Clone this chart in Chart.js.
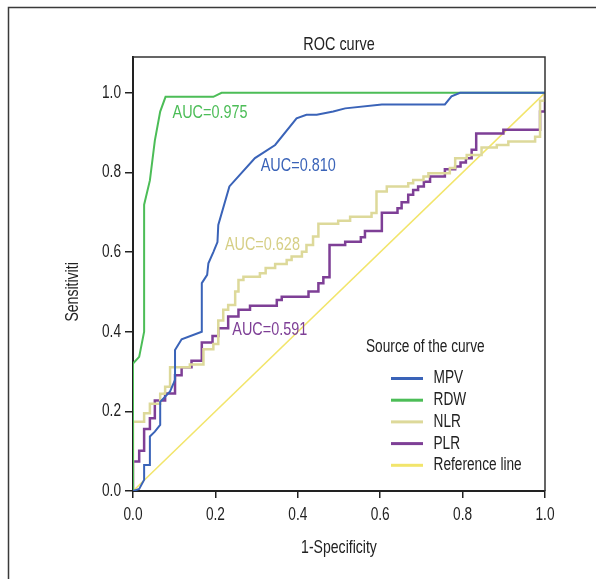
<!DOCTYPE html>
<html lang="en">
<head>
<meta charset="UTF-8" />
<title>ROC curve</title>
<script src="https://cdn.jsdelivr.net/npm/chart.js"></script>
<style>
  html, body { margin: 0; padding: 0; background: #fff; }
  #roc { display: block; }
</style>
</head>
<body>
<canvas id="roc" width="596" height="579"></canvas>

<script>
    // x = 1-Specificity, y = Sensitivity
    const mpvFpr = [0, 0.015, 0.027, 0.027, 0.041, 0.041, 0.053, 0.066, 0.066, 0.09, 0.102, 0.102, 0.118, 0.167, 0.167, 0.18, 0.183, 0.195, 0.205, 0.207, 0.234, 0.296, 0.345, 0.397, 0.421, 0.446, 0.486, 0.515, 0.604, 0.757, 0.773, 0.794, 1];
    const mpvTpr = [0, 0.005, 0.028, 0.065, 0.065, 0.137, 0.149, 0.166, 0.224, 0.25, 0.279, 0.354, 0.381, 0.40, 0.522, 0.543, 0.572, 0.60, 0.625, 0.668, 0.765, 0.836, 0.869, 0.936, 0.945, 0.945, 0.953, 0.961, 0.971, 0.971, 0.991, 1, 1];

    const rdwFpr = [0, 0, 0.015, 0.027, 0.027, 0.041, 0.053, 0.066, 0.079, 0.195, 0.215, 1];
    const rdwTpr = [0, 0.32, 0.337, 0.40, 0.719, 0.78, 0.88, 0.953, 0.99, 0.99, 1, 1];

    // NLR and PLR are step curves (one point per threshold)
    const nlrFpr = [0, 0, 0.027, 0.041, 0.066, 0.078, 0.09, 0.138, 0.171, 0.195, 0.207, 0.219, 0.231, 0.248, 0.256, 0.268, 0.308, 0.322, 0.345, 0.373, 0.385, 0.41, 0.421, 0.437, 0.45, 0.498, 0.527, 0.579, 0.591, 0.616, 0.668, 0.68, 0.705, 0.717, 0.769, 0.782, 0.81, 0.846, 0.883, 0.911, 0.976, 0.988, 1];
    const nlrTpr = [0, 0.174, 0.195, 0.219, 0.244, 0.262, 0.311, 0.318, 0.356, 0.369, 0.428, 0.455, 0.467, 0.501, 0.530, 0.538, 0.547, 0.56, 0.57, 0.58, 0.589, 0.601, 0.618, 0.639, 0.671, 0.679, 0.689, 0.698, 0.752, 0.765, 0.773, 0.781, 0.79, 0.798, 0.811, 0.836, 0.844, 0.863, 0.869, 0.878, 0.89, 0.98, 1];

    const plrFpr = [0, 0, 0.015, 0.027, 0.041, 0.053, 0.078, 0.102, 0.118, 0.142, 0.167, 0.193, 0.207, 0.231, 0.256, 0.284, 0.349, 0.361, 0.426, 0.45, 0.462, 0.477, 0.515, 0.553, 0.563, 0.604, 0.642, 0.652, 0.668, 0.68, 0.692, 0.706, 0.721, 0.757, 0.782, 0.795, 0.808, 0.822, 0.833, 0.899, 0.988, 1];
    const plrTpr = [0, 0.074, 0.101, 0.156, 0.183, 0.227, 0.245, 0.291, 0.311, 0.327, 0.373, 0.389, 0.409, 0.438, 0.455, 0.465, 0.48, 0.488, 0.501, 0.522, 0.537, 0.618, 0.626, 0.637, 0.653, 0.699, 0.71, 0.725, 0.744, 0.756, 0.765, 0.777, 0.79, 0.808, 0.815, 0.825, 0.836, 0.857, 0.898, 0.907, 0.953, 1];

    const refFpr = [0, 1];
    const refTpr = [0, 1];

    const seriesNames = ['MPV', 'RDW', 'NLR', 'PLR', 'Reference line'];
    const seriesColors = ['#3a63b8', '#4cbd57', '#ddd99a', '#7e3f96', '#f2e56b'];
    const aucTexts = ['AUC=0.810', 'AUC=0.975', 'AUC=0.628', 'AUC=0.591'];
    const tickValues = [0, 0.2, 0.4, 0.6, 0.8, 1.0];

    // no condensed font installed: squeeze Liberation Sans horizontally
    const FONT = '"Liberation Sans", Arial, sans-serif';
    const SX = 0.76;

    function pts(xs, ys) {
        return xs.map((x, i) => ({ x: x, y: ys[i] }));
    }

    function txt(ctx, s, x, y, align, base) {
        ctx.save();
        ctx.translate(x, y);
        ctx.scale(SX, 1);
        ctx.textAlign = align;
        ctx.textBaseline = base;
        ctx.fillText(s, 0, 0);
        ctx.restore();
    }

    const extras = {
        id: 'extras',
        afterDraw(chart) {
            const ctx = chart.ctx;
            const a = chart.chartArea;
            const xs = chart.scales.x;
            const ys = chart.scales.y;
            ctx.save();

            // outer frame (top + left only)
            ctx.strokeStyle = '#3a3a3a';
            ctx.lineWidth = 1.5;
            ctx.beginPath();
            ctx.moveTo(8.5, 579);
            ctx.lineTo(8.5, 7.5);
            ctx.lineTo(596, 7.5);
            ctx.stroke();

            // plot box top + right
            ctx.strokeStyle = '#333';
            ctx.lineWidth = 1.5;
            ctx.beginPath();
            ctx.moveTo(a.left, a.top);
            ctx.lineTo(a.right, a.top);
            ctx.lineTo(a.right, a.bottom);
            ctx.stroke();

            // tick labels, from the scales' own ticks
            ctx.fillStyle = '#222';
            ctx.font = '18px ' + FONT;
            xs.ticks.forEach((t, i) => {
                txt(ctx, t.value.toFixed(1), xs.getPixelForTick(i), 519.5, 'center', 'alphabetic');
            });
            ys.ticks.forEach((t, i) => {
                txt(ctx, t.value.toFixed(1), 121, ys.getPixelForTick(i), 'right', 'middle');
            });

            // titles
            ctx.font = '19px ' + FONT;
            txt(ctx, 'ROC curve', (a.left + a.right) / 2, 50, 'center', 'alphabetic');
            ctx.font = '18.5px ' + FONT;
            txt(ctx, '1-Specificity', xs.getPixelForValue(0.5), 553, 'center', 'alphabetic');
            ctx.save();
            ctx.translate(78, ys.getPixelForValue(0.5));
            ctx.rotate(-Math.PI / 2);
            txt(ctx, 'Sensitiviti', 0, 0, 'center', 'alphabetic');
            ctx.restore();

            // AUC labels
            const aucAt = [[0.31, 0.817], [0.096, 0.95], [0.223, 0.618], [0.241, 0.405]];
            ctx.font = '19px ' + FONT;
            aucTexts.forEach((t, i) => {
                ctx.fillStyle = i === 2 ? '#d6cf86' : seriesColors[i];
                txt(ctx, t, xs.getPixelForValue(aucAt[i][0]), ys.getPixelForValue(aucAt[i][1]), 'left', 'middle');
            });

            // legend
            ctx.fillStyle = '#222';
            ctx.font = '18px ' + FONT;
            txt(ctx, 'Source of the curve', 366, 347, 'left', 'middle');
            seriesNames.forEach((n, i) => {
                const y = 378.5 + i * 21.7;
                ctx.strokeStyle = seriesColors[i];
                ctx.lineWidth = 3;
                ctx.beginPath();
                ctx.moveTo(391, y);
                ctx.lineTo(423, y);
                ctx.stroke();
                ctx.fillStyle = '#222';
                txt(ctx, n, 433.5, y, 'left', 'middle');
            });

            ctx.restore();
        }
    };

    new Chart(document.getElementById('roc'), {
        type: 'scatter',
        data: {
            datasets: [
                { label: seriesNames[0], data: pts(mpvFpr, mpvTpr), borderColor: seriesColors[0], borderWidth: 2 },
                { label: seriesNames[1], data: pts(rdwFpr, rdwTpr), borderColor: seriesColors[1], borderWidth: 2 },
                { label: seriesNames[2], data: pts(nlrFpr, nlrTpr), borderColor: seriesColors[2], borderWidth: 2.5, stepped: 'before' },
                { label: seriesNames[3], data: pts(plrFpr, plrTpr), borderColor: seriesColors[3], borderWidth: 2.5, stepped: 'before' },
                { label: seriesNames[4], data: pts(refFpr, refTpr), borderColor: seriesColors[4], borderWidth: 1.5 }
            ].map(d => Object.assign(d, { showLine: true, pointRadius: 0, tension: 0, fill: false }))
        },
        options: {
            responsive: false,
            animation: false,
            devicePixelRatio: 1,
            layout: { padding: { top: 57, right: 51, bottom: 0, left: 0 } },
            plugins: {
                legend: { display: false },
                title: { display: false },
                tooltip: { enabled: false }
            },
            scales: {
                x: {
                    type: 'linear',
                    min: 0,
                    max: 1,
                    afterBuildTicks: s => { s.ticks = tickValues.map(v => ({ value: v })); },
                    afterFit: s => { s.height = 88; },
                    ticks: { display: false },
                    grid: { drawOnChartArea: false, drawTicks: true, tickLength: 7, color: '#222', lineWidth: 1.5 },
                    border: { display: true, color: '#222', width: 2 }
                },
                y: {
                    type: 'linear',
                    min: 0,
                    max: 1.09,
                    afterBuildTicks: s => { s.ticks = tickValues.map(v => ({ value: v })); },
                    afterFit: s => { s.width = 133; },
                    ticks: { display: false },
                    grid: { drawOnChartArea: false, drawTicks: true, tickLength: 8, color: '#222', lineWidth: 1.5 },
                    border: { display: true, color: '#222', width: 2 }
                }
            }
        },
        plugins: [extras]
    });
</script>
</body>
</html>
